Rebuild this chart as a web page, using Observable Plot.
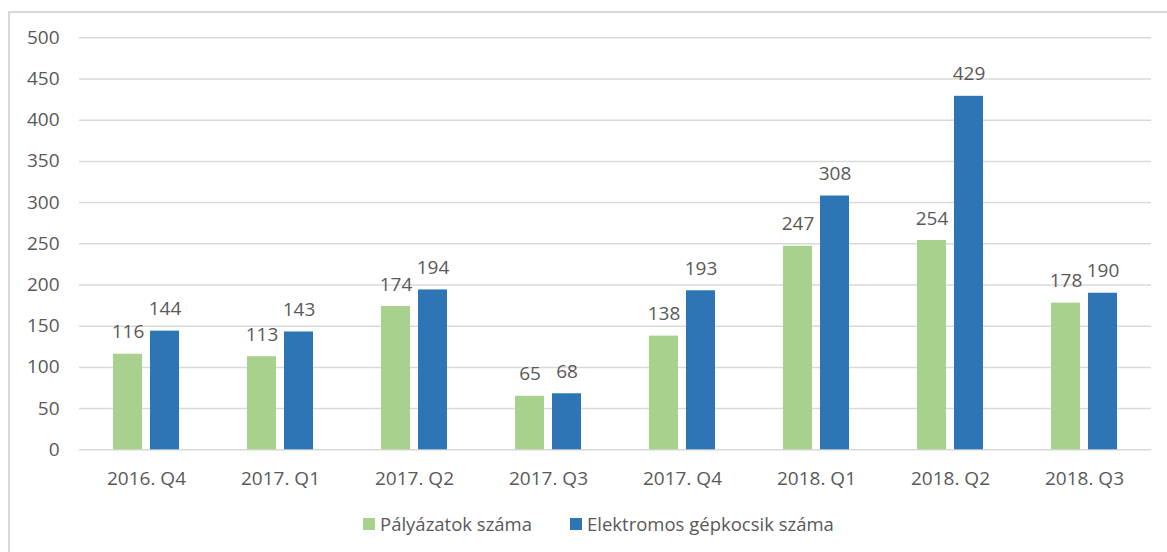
<!DOCTYPE html>
<html>
<head>
<meta charset="utf-8">
<script src="https://cdn.jsdelivr.net/npm/d3@7"></script>
<script src="https://cdn.jsdelivr.net/npm/@observablehq/plot@0.6"></script>
<style>
  html, body { margin: 0; padding: 0; background: #fff; }
  body { width: 1167px; height: 552px; position: relative; overflow: hidden; font-family: "Open Sans", sans-serif; }
  #frame { position: absolute; left: 8px; top: 11px; width: 1300px; height: 600px; border-left: 2px solid #d9d9d9; border-top: 2px solid #d9d9d9; }
  #chart { position: absolute; left: 0; top: 0; }
  #legend { position: absolute; left: 363px; top: 511px; display: flex; align-items: center; font-size: 18.5px; color: #595959; white-space: nowrap; }
  .sw { display: inline-block; width: 12px; height: 12px; margin-right: 5px; }
  .item { display: flex; align-items: center; }
  .item + .item { margin-left: 38px; }
</style>
</head>
<body>
<div id="frame"></div>
<div id="chart"></div>
<div id="legend"></div>
<script>
const quarters = ["2016. Q4", "2017. Q1", "2017. Q2", "2017. Q3", "2017. Q4", "2018. Q1", "2018. Q2", "2018. Q3"];
const seriesNames = ["Pályázatok száma", "Elektromos gépkocsik száma"];
const palyazatok = [116, 113, 174, 65, 138, 247, 254, 178];
const gepkocsik = [144, 143, 194, 68, 193, 308, 429, 190];
const colors = ["#A9D18E", "#2E75B6"];
const yTicks = [0, 50, 100, 150, 200, 250, 300, 350, 400, 450, 500];

const data = [];
quarters.forEach((q, i) => {
  data.push({quarter: q, series: seriesNames[0], value: palyazatok[i]});
  data.push({quarter: q, series: seriesNames[1], value: gepkocsik[i]});
});

const textColor = "#595959";
const fs = 19;
const chart = Plot.plot({
  width: 1167,
  height: 500,
  marginLeft: 78,
  marginRight: 14.5,
  marginTop: 37.3,
  marginBottom: 50.7,
  style: {fontFamily: "'Open Sans', sans-serif", fontSize: fs + "px", color: textColor, background: "transparent"},
  fx: {domain: quarters, padding: 0, label: null},
  x: {domain: seriesNames, paddingInner: 0.21, paddingOuter: 0.87, axis: null},
  y: {domain: [0, 500], axis: null},
  color: {domain: seriesNames, range: colors},
  marks: [
    Plot.gridY(yTicks, {stroke: "#d9d9d9", strokeOpacity: 1, strokeWidth: 1.5}),
    Plot.axisY(yTicks, {tickSize: 0, tickPadding: 20, fontSize: fs, fill: textColor, label: null}),
    Plot.axisFx({anchor: "bottom", tickSize: 0, tickPadding: 22, fontSize: fs, fill: textColor, label: null}),
    Plot.barY(data, {fx: "quarter", x: "series", y: "value", fill: "series"}),
    Plot.text(data, {fx: "quarter", x: "series", y: "value", text: d => String(d.value), dy: -22, fontSize: fs, fill: textColor})
  ]
});
document.getElementById("chart").appendChild(chart);

const legend = document.getElementById("legend");
seriesNames.forEach((name, i) => {
  const item = document.createElement("span");
  item.className = "item";
  const sw = document.createElement("span");
  sw.className = "sw";
  sw.style.background = colors[i];
  const label = document.createElement("span");
  label.textContent = name;
  item.appendChild(sw);
  item.appendChild(label);
  legend.appendChild(item);
});
</script>
</body>
</html>
